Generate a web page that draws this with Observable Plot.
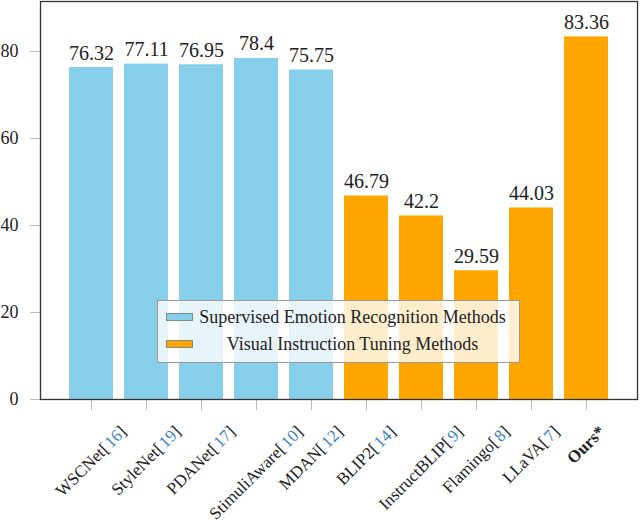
<!DOCTYPE html>
<html>
<head>
<meta charset="utf-8">
<script src="https://cdn.jsdelivr.net/npm/d3@7"></script>
<script src="https://cdn.jsdelivr.net/npm/@observablehq/plot@0.6"></script>
<style>
  body { margin: 0; background: #fff; font-family: "Liberation Serif", serif; }
  #chart { position: relative; width: 640px; height: 524px; }
  #legend { position: absolute; left: 157px; top: 300px; width: 361px; height: 61px;
    background: rgba(255,255,255,0.8); border: 1px solid #999; font-size: 18px; color: #222; }
  .sw { position: absolute; left: 8px; width: 25px; height: 6px; border: 1px solid #888; }
  .lt { position: absolute; left: 41px; width: 307px; text-align: center; line-height: 20px; white-space: nowrap; }
</style>
</head>
<body>
<div id="chart"></div>
<script>
const names = ['WSCNet', 'StyleNet', 'PDANet', 'StimuliAware', 'MDAN', 'BLIP2', 'InstructBLIP', 'Flamingo', 'LLaVA', 'Ours*']
const refs = ['16', '19', '17', '10', '12', '14', '9', '8', '7', '']
const scores = [76.32, 77.11, 76.95, 78.4, 75.75, 46.79, 42.2, 29.59, 44.03, 83.36]
const groupNames = ['Supervised Emotion Recognition Methods', 'Visual Instruction Tuning Methods']
const groups = [0, 0, 0, 0, 0, 1, 1, 1, 1, 1].map(g => groupNames[g])
const groupColors = ['#87ceeb', '#ffa500']
const yTicks = [0, 20, 40, 60, 80]

const data = names.map((name, i) => ({name, ref: refs[i], score: scores[i], group: groups[i]}))

const chart = Plot.plot({
  width: 640,
  height: 524,
  marginTop: 1,
  marginRight: 3,
  marginBottom: 125,
  marginLeft: 40,
  style: {fontFamily: '"Liberation Serif", serif', fontSize: '18px', color: '#222', background: 'white'},
  x: {domain: names, paddingInner: 0.2, paddingOuter: 0.1, insetLeft: 23, insetRight: 23, label: null},
  y: {domain: [0, 91.5], label: null},
  color: {domain: groupNames, range: groupColors},
  marks: [
    Plot.barY(data, {x: 'name', y: 'score', fill: 'group'}),
    Plot.text(data, {x: 'name', y: 'score', text: d => String(d.score), lineAnchor: 'bottom', dy: -8, fontSize: 20}),
    Plot.axisY({ticks: yTicks, tickSize: 10, tickPadding: 12, stroke: '#bbb', label: null}),
    Plot.axisX({
      tickSize: 11, stroke: '#bbb', label: null, tickRotate: -45, textAnchor: 'middle', lineAnchor: 'middle', fontSize: 17,
      tickFormat: n => { const d = data.find(e => e.name === n); return d.ref ? `${n}[${d.ref}]` : n }
    }),
    Plot.frame({stroke: '#333', strokeWidth: 1.3}),
  ],
})

const box = d3.select('#chart')
box.append(() => chart)

/* etiquetas del eje x: número de cita en azul, "Ours*" en negrita, centradas bajo cada tick */
const xs = chart.scale('x')
const svgBox = chart.getBoundingClientRect()
d3.select(chart).selectAll('g[aria-label="x-axis tick label"] text').each(function (_, i) {
  const t = d3.select(this)
  const full = t.text()
  const m = full.match(/^(.*)\[(\d+)\]$/)
  t.text(null)
  if (m) {
    t.append('tspan').text(m[1] + '[')
    t.append('tspan').attr('fill', '#3b83c4').attr('dx', 2).text(m[2])
    t.append('tspan').text(']')
  } else {
    t.append('tspan').attr('font-weight', 'bold').text(full)
  }
  const tr = t.attr('transform').match(/translate\(([-\d.]+),\s*([-\d.]+)\)/)
  let x = +tr[1], y = +tr[2]
  const r = this.getBoundingClientRect()
  const cx = xs.apply(names[i]) + xs.bandwidth / 2
  x += cx - ((r.left + r.right) / 2 - svgBox.left)
  y += 422 - (r.top - svgBox.top)
  t.attr('transform', `translate(${x},${y}) rotate(-45)`)
})

/* leyenda encima del gráfico */
const color = chart.scale('color')
const legend = box.append('div').attr('id', 'legend')
groupNames.forEach((g, i) => {
  legend.append('div').attr('class', 'sw').style('top', `${12 + i * 27}px`).style('background', color.apply(g))
  legend.append('div').attr('class', 'lt').style('top', `${6 + i * 27}px`).text(g)
})
</script>
</body>
</html>
